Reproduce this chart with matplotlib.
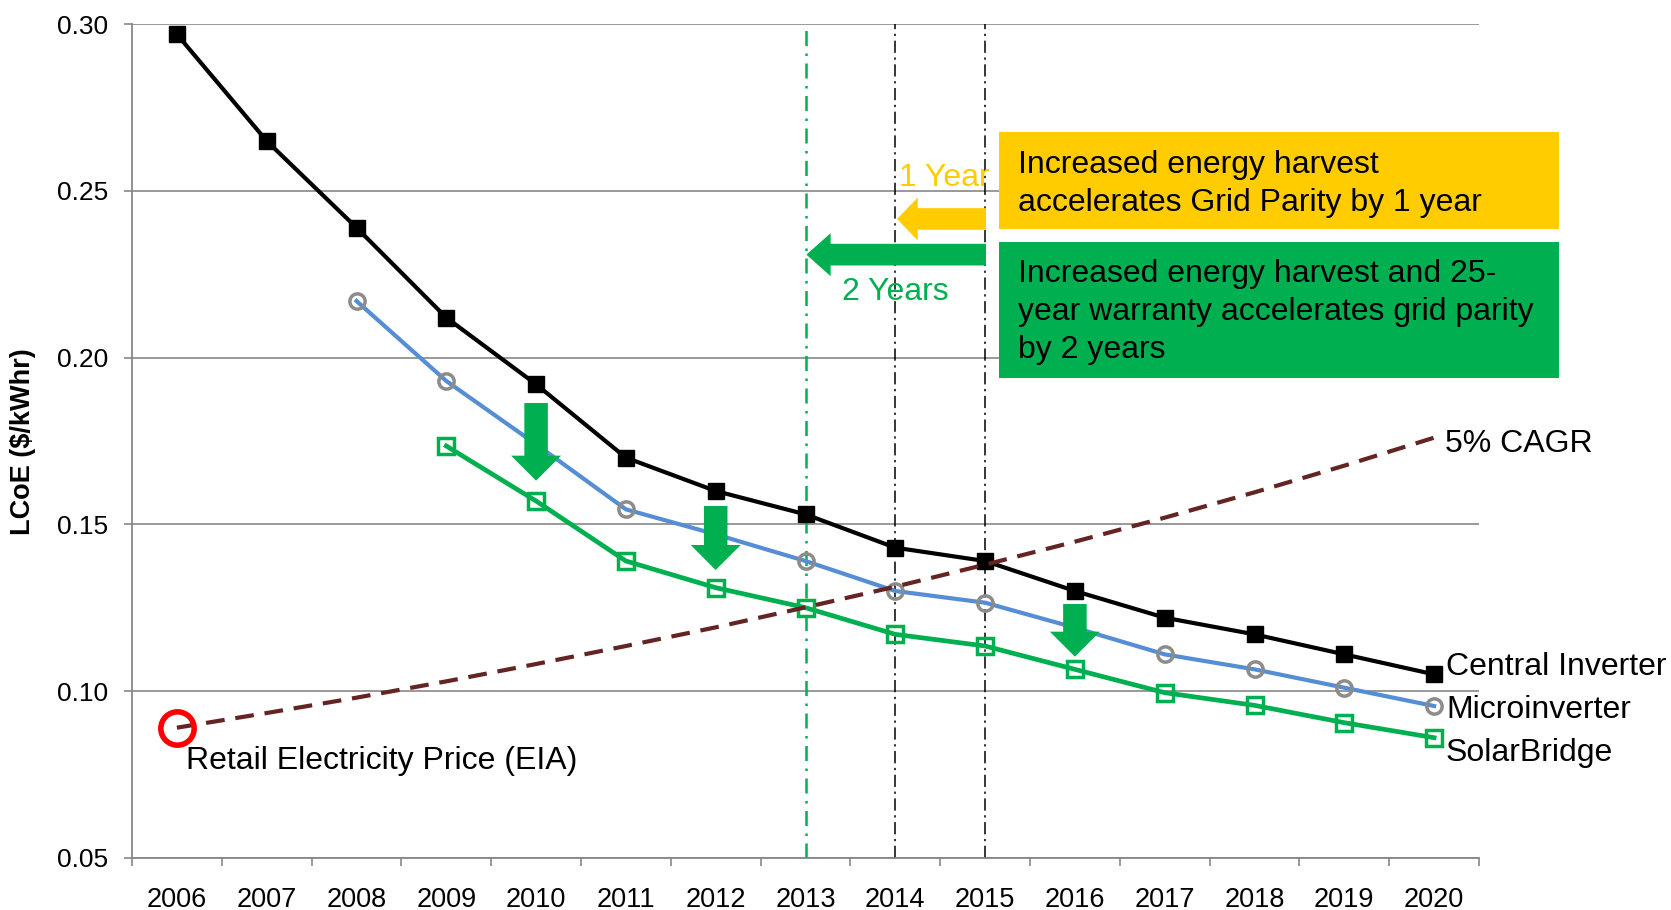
"""LCoE comparison chart: central inverter vs microinverter vs SolarBridge."""

import numpy as np
import matplotlib.pyplot as plt
from matplotlib.patches import Rectangle, FancyArrow

plt.rcParams['font.family'] = ['Liberation Sans', 'DejaVu Sans']

W, H = 1671, 910


def fx(px):
    return px / W


def fy(py):
    return 1 - py / H


years = ['2006', '2007', '2008', '2009', '2010', '2011', '2012', '2013',
         '2014', '2015', '2016', '2017', '2018', '2019', '2020']
central = [0.297, 0.265, 0.239, 0.212, 0.192, 0.170, 0.160, 0.153,
           0.143, 0.139, 0.130, 0.122, 0.117, 0.111, 0.105]
micro = [np.nan, np.nan, 0.217, 0.193, 0.174, 0.1545, 0.147, 0.139,
         0.130, 0.1265, 0.119, 0.111, 0.1065, 0.101, 0.0955]
solar = [np.nan, np.nan, np.nan, 0.1735, 0.157, 0.139, 0.131, 0.125,
         0.117, 0.1135, 0.1065, 0.0995, 0.0957, 0.0905, 0.086]
cagr = [0.089, 0.0934, 0.0980, 0.1029, 0.1081, 0.1135, 0.1191, 0.1251,
        0.1313, 0.1379, 0.1448, 0.1520, 0.1596, 0.1676, 0.1760]
retail_price = 0.089

# green "drop" arrows: year index, top, tip
drop_idx = [4, 6, 10]
drop_top = [0.1864, 0.1555, 0.1261]
drop_tip = [0.1631, 0.1363, 0.1103]

parity_years = [7, 8, 9]

YELLOW = '#FFCC00'
GREEN = '#00B050'
GRAY = '#878787'

x = np.arange(len(years))

fig = plt.figure(figsize=(W / 100, H / 100), dpi=100)
ax = fig.add_axes([fx(132), fy(857.7), (1479 - 132) / W, (857.7 - 24.3) / H])

ax.set_xlim(-0.5, len(years) - 0.5)
ax.set_ylim(0.05, 0.30)

# grid parity markers
ax.axvline(parity_years[0], color=GREEN, lw=1.8, ls=(0, (6, 3, 1, 3)), zorder=2)
for px_ in parity_years[1:]:
    ax.axvline(px_, color='black', lw=1.1, ls=(0, (8, 3, 1.5, 3)), zorder=2)

ax.plot(x, central, color='black', lw=3, marker='s', ms=11, zorder=4)
ax.plot(x, micro, color='#558ED5', lw=3, marker='o', ms=11, mfc='none',
        mec='#8C8C8C', mew=2.5, zorder=4)
ax.plot(x, solar, color=GREEN, lw=3.4, marker='s', ms=11, mfc='none',
        mec=GREEN, mew=2.5, zorder=4)
ax.plot(x, cagr, color='#632423', lw=3, ls=(0, (4.5, 2.6)), zorder=5)
ax.plot([x[0]], [retail_price], marker='o', ms=24, mfc='none', mec='#FF0000',
        mew=4, ls='none', zorder=6, clip_on=False)

# down arrows
for i, top, tip in zip(drop_idx, drop_top, drop_tip):
    ax.add_patch(FancyArrow(i, top, 0, tip - top, width=0.262, head_width=0.557,
                            head_length=0.0075, length_includes_head=True,
                            color=GREEN, lw=0, zorder=7))

# acceleration arrows
ax.add_patch(FancyArrow(9.01, 0.2416, 8.02 - 9.01, 0, width=0.0065, head_width=0.0129,
                        head_length=0.23, length_includes_head=True,
                        color=YELLOW, lw=0, zorder=7))
ax.add_patch(FancyArrow(9.01, 0.2309, 7.01 - 9.01, 0, width=0.0065, head_width=0.0129,
                        head_length=0.27, length_includes_head=True,
                        color=GREEN, lw=0, zorder=7))

# axes styling
for s in ['top', 'right']:
    ax.spines[s].set_visible(False)
for s in ['left', 'bottom']:
    ax.spines[s].set_color(GRAY)
    ax.spines[s].set_linewidth(1.3)
ax.yaxis.grid(True, color=GRAY, lw=1.2)
ax.set_axisbelow(True)

ax.set_yticks(np.arange(0.05, 0.301, 0.05))
ax.set_yticklabels(['%.2f' % v for v in np.arange(0.05, 0.301, 0.05)])
ax.tick_params(axis='y', length=6, width=1.2, color=GRAY, pad=11, labelsize=19)

ax.set_xticks(x)
ax.set_xticklabels(years)
ax.set_xticks(np.arange(-0.5, len(years), 1), minor=True)
ax.tick_params(axis='x', which='major', length=0, pad=21.3, labelsize=19.5)
ax.tick_params(axis='x', which='minor', length=6, width=1.2, color=GRAY)

fig.text(fx(23.5), fy(441.5), 'LCoE ($/kWhr)', rotation=90, ha='center', va='center',
         fontsize=19.5, fontweight='bold')

# series labels
lbl = dict(fontsize=23, va='baseline', ha='left')
fig.text(fx(1446), fy(675), 'Central Inverter', **lbl)
fig.text(fx(1446), fy(718), 'Microinverter', **lbl)
fig.text(fx(1446), fy(761.5), 'SolarBridge', **lbl)
fig.text(fx(1445), fy(451.5), '5% CAGR', **lbl)
fig.text(fx(186.5), fy(769.5), 'Retail Electricity Price (EIA)', **lbl)
fig.text(fx(899), fy(185.5), '1 Year', color=YELLOW, **lbl)
fig.text(fx(842), fy(300), '2 Years', color=GREEN, **lbl)

# callout boxes
fig.add_artist(Rectangle((fx(999), fy(229)), (1559 - 999) / W, (229 - 132) / H,
                         transform=fig.transFigure, color=YELLOW, lw=0, zorder=8))
fig.add_artist(Rectangle((fx(999), fy(378)), (1559 - 999) / W, (378 - 242) / H,
                         transform=fig.transFigure, color=GREEN, lw=0, zorder=8))

box1 = ['Increased energy harvest', 'accelerates Grid Parity by 1 year']
box2 = ['Increased energy harvest and 25-', 'year warranty accelerates grid parity',
        'by 2 years']
for i, line in enumerate(box1):
    fig.text(fx(1017.5), fy(173 + 38 * i), line, zorder=9, **lbl)
for i, line in enumerate(box2):
    fig.text(fx(1017.5), fy(282 + 38 * i), line, zorder=9, **lbl)

fig.savefig('out.png', dpi=100)
